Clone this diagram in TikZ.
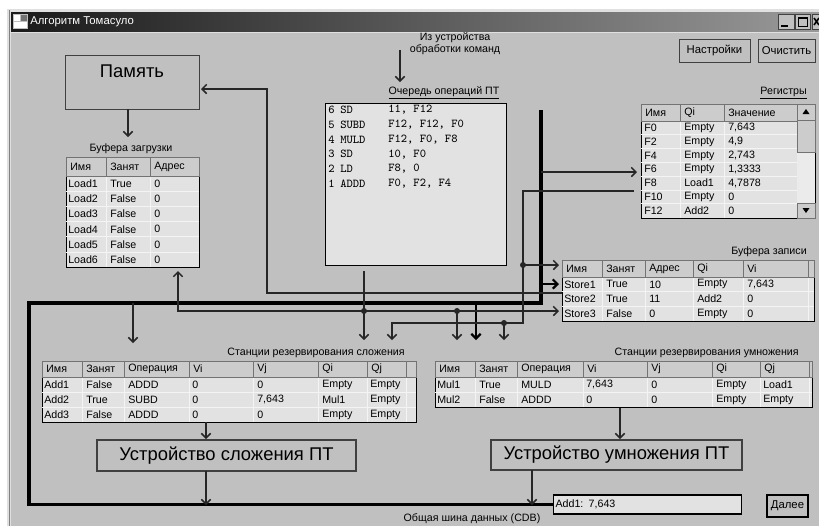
\documentclass[tikz,border=0pt]{standalone}
\usepackage{fontspec}
\setmainfont{Liberation Sans}
\usetikzlibrary{arrows.meta,positioning,calc}

\definecolor{winbg}{RGB}{192,192,192}
\definecolor{cellbg}{RGB}{226,226,226}
\definecolor{hdrbg}{RGB}{204,204,204}
\definecolor{wirec}{RGB}{38,38,38}
\definecolor{gridc}{RGB}{244,244,244}

\begin{document}
\begin{tikzpicture}
	[x=0.75pt,y=-0.75pt,
	>={Straight Barb[length=3.5pt,width=7pt]},
	wire/.style={draw=wirec,line width=1.1pt},
	tap/.style={draw=black,line width=1.7pt},
	bus/.style={draw=black,line width=2.4pt},
	jn/.style={circle,fill=wirec,inner sep=0pt,minimum size=4.5pt},
	tt/.style={font=\fontsize{8}{9}\selectfont,inner sep=0pt,anchor=west},
	lbl/.style={font=\fontsize{8}{9}\selectfont,inner sep=0pt},
	qt/.style={font=\ttfamily\fontsize{9}{10}\selectfont,inner sep=0pt,anchor=west},
	tbl/.style={draw=black,fill=cellbg,line width=0.8pt,inner sep=0pt,anchor=north west},
	hdr/.style={draw=black!55,fill=hdrbg,line width=0.5pt},
	gridln/.style={draw=gridc,line width=0.6pt},
	fpu/.style={draw=black!75,line width=0.8pt,inner sep=0pt,font=\fontsize{13.8}{16}\selectfont},
	btn/.style={draw=black!75,fill=winbg,line width=0.7pt,inner sep=0pt,font=\fontsize{8.5}{10}\selectfont}]
	\useasboundingbox (0,0) rectangle (819,526);
	%%%%% WINDOW
	\fill[white] (0,0) rectangle (819,526);
	\fill[black!12] (7,9) rectangle (819,526);
	\draw[black!50,line width=0.6pt] (9,10) -- (9,526);
	\shade[left color=black!90,right color=black!40] (11,12) rectangle (819,31);
	\fill[winbg] (11,33) rectangle (819,526);
	\fill[black!25] (13,14) rectangle (28,29);
	\fill[white] (14,15) rectangle (20,21);
	\fill[black!55] (21,15) rectangle (27,21);
	\fill[white] (14,22) rectangle (27,28);
	\node[anchor=west,white,font=\fontsize{8.5}{10}\selectfont,inner sep=0pt] (title) at (30,21.5) {Алгоритм Томасуло};
	\foreach \xa/\xb [count=\c] in {778/794,795/810,812/819}
	{
	\node[btn,anchor=north west,minimum width={(\xb-\xa)*0.75pt},minimum height=11.25pt] (wb\c) at (\xa,14) {};
	};
	\draw[line width=1.5pt] (781,25.5) -- (788,25.5);
	\draw[line width=0.7pt] (798,17.5) rectangle (807,26);
	\draw[line width=1.4pt] (798,18) -- (807,18);
	\draw[line width=1.2pt] (814,18) -- (819,25) (814,25) -- (819,18);
	\node[btn,minimum width=53.25pt,minimum height=17.25pt] (setup) at (714.5,50.5) {Настройки};
	\node[btn,minimum width=42.75pt,minimum height=17.25pt] (clear) at (786.5,50.5) {Очистить};
	\node[btn,draw=black,line width=1.5pt,minimum width=30.75pt,minimum height=16.5pt] (next) at (787.5,506) {Далее};
	%%%%% MEMORY
	\node[fpu,anchor=north west,minimum width=100.5pt,minimum height=40.5pt] (mem) at (65,55) {};
	\node[fpu,draw=none] (memtxt) at (132,71) {Память};
	%%%%% QUEUE
	\node[lbl,align=center] (from) at (455,44) {Из устройства\\обработки команд};
	\node[lbl] (qcap) at (444,93) {\underline{Очередь операций ПТ}};
	\node[tbl,minimum width=135.75pt,minimum height=121.5pt] (queue) at (325,103) {};
	\foreach \va/\vb/\vc [count=\r] in {6/SD/{11, F12},5/SUBD/{F12, F12, F0},4/MULD/{F12, F0, F8},3/SD/{10, F0},2/LD/{F8, 0},1/ADDD/{F0, F2, F4}}
	{
	\node[qt] (qn\r) at (328,{95+14.8*\r}) {\va};
	\node[qt] (qo\r) at (340,{95+14.8*\r}) {\vb};
	\node[qt] (qa\r) at (388,{95+14.8*\r}) {\vc};
	};
	%%%%% LOAD BUFFERS
	\node[lbl] (loadcap) at (131,149) {Буфера загрузки};
	\node[tbl,minimum width=99.75pt,minimum height=82.5pt] (load) at (66,157) {};
	\foreach \y in {1,...,5} \draw[gridln] (66,{176+15.2*\y}) -- (199,{176+15.2*\y});
	\foreach \x in {106,150} \draw[gridln] (\x,176) -- (\x,267);
	\foreach \xa/\xb/\t [count=\c] in {66/106/Имя,106/150/Занят,150/199/Адрес}
	{
	\draw[hdr] (\xa,157) rectangle (\xb,176);
	\node[tt] (loadh\c) at (\xa+4,166.5) {\t};
	};
	\foreach \va/\vb/\vc [count=\r] in {Load1/True/0,Load2/False/0,Load3/False/0,Load4/False/0,Load5/False/0,Load6/False/0}
	{
	\node[tt] (ld\r-a) at (68,{168.4+15.2*\r}) {\va};
	\node[tt] (ld\r-b) at (110,{168.4+15.2*\r}) {\vb};
	\node[tt] (ld\r-c) at (154,{168.4+15.2*\r}) {\vc};
	};
	%%%%% REGISTERS
	\node[lbl,anchor=east] (regcap) at (807,93) {\underline{Регистры}};
	\node[tbl,minimum width=130.5pt,minimum height=85.5pt] (regs) at (641,104) {};
	\foreach \y in {1,...,6} \draw[gridln] (641,{121+13.8*\y}) -- (797,{121+13.8*\y});
	\foreach \x in {680,724} \draw[gridln] (\x,121) -- (\x,218);
	\foreach \xa/\xb/\t [count=\c] in {641/680/Имя,680/724/Qi,724/797/Значение}
	{
	\draw[hdr] (\xa,104) rectangle (\xb,121);
	\node[tt] (regh\c) at (\xa+4,112.5) {\t};
	};
	\foreach \va/\vb/\vc [count=\r] in {F0/Empty/{7,643},F2/Empty/{4,9},F4/Empty/{2,743},F6/Empty/{1,3333},F8/Load1/{4,7878},F10/Empty/0,F12/Add2/0}
	{
	\node[tt] (rg\r-a) at (644,{114.1+13.8*\r}) {\va};
	\node[tt] (rg\r-b) at (684,{114.1+13.8*\r}) {\vb};
	\node[tt] (rg\r-c) at (728,{114.1+13.8*\r}) {\vc};
	};
	\fill[black!8] (797,104) rectangle (815,218);
	\draw[hdr] (797,104) rectangle (815,120);
	\draw[hdr] (797,120) rectangle (815,152);
	\draw[hdr] (797,203) rectangle (815,218);
	\fill (806,109) -- (802.5,114) -- (809.5,114) -- cycle;
	\fill (806,213) -- (802.5,208) -- (809.5,208) -- cycle;
	%%%%% STORE BUFFERS
	\node[lbl,anchor=east] (stcap) at (807,252) {Буфера записи};
	\node[tbl,minimum width=189pt,minimum height=45.75pt] (store) at (562,260) {};
	\foreach \y in {1,2} \draw[gridln] (562,{277+14.7*\y}) -- (814,{277+14.7*\y});
	\foreach \x in {602,645,693,743,808} \draw[gridln] (\x,277) -- (\x,321);
	\foreach \xa/\xb/\t [count=\c] in {562/602/Имя,602/645/Занят,645/693/Адрес,693/743/Qi,743/808/Vi,808/814/{}}
	{
	\draw[hdr] (\xa,260) rectangle (\xb,277);
	\node[tt] (sth\c) at (\xa+4,268.5) {\t};
	};
	\foreach \va/\vb/\vc/\vd/\ve [count=\r] in {Store1/True/10/Empty/{7,643},Store2/True/11/Add2/0,Store3/False/0/Empty/0}
	{
	\node[tt] (st\r-a) at (564,{269.65+14.7*\r}) {\va};
	\node[tt] (st\r-b) at (606,{269.65+14.7*\r}) {\vb};
	\node[tt] (st\r-c) at (649,{269.65+14.7*\r}) {\vc};
	\node[tt] (st\r-d) at (697,{269.65+14.7*\r}) {\vd};
	\node[tt] (st\r-e) at (747,{269.65+14.7*\r}) {\ve};
	};
	%%%%% ADD STATIONS
	\node[lbl,anchor=east] (addcap) at (405,353) {Станции резервирования сложения};
	\node[tbl,minimum width=280.5pt,minimum height=45.75pt] (addrs) at (42,361) {};
	\foreach \y in {1,2} \draw[gridln] (42,{377+15*\y}) -- (416,{377+15*\y});
	\foreach \x in {82,124,189,253,318,367,406} \draw[gridln] (\x,377) -- (\x,422);
	\foreach \xa/\xb/\t [count=\c] in {42/82/Имя,82/124/Занят,124/189/Операция,189/253/Vi,253/318/Vj,318/367/Qi,367/406/Qj,406/416/{}}
	{
	\draw[hdr] (\xa,361) rectangle (\xb,377);
	\node[tt] (addh\c) at (\xa+4,369) {\t};
	};
	\foreach \va/\vb/\vc/\vd/\ve/\vf/\vg [count=\r] in {Add1/False/ADDD/0/0/Empty/Empty,Add2/True/SUBD/0/{7,643}/Mul1/Empty,Add3/False/ADDD/0/0/Empty/Empty}
	{
	\node[tt] (ad\r-a) at (44,{369.5+15*\r}) {\va};
	\node[tt] (ad\r-b) at (86,{369.5+15*\r}) {\vb};
	\node[tt] (ad\r-c) at (128,{369.5+15*\r}) {\vc};
	\node[tt] (ad\r-d) at (192,{369.5+15*\r}) {\vd};
	\node[tt] (ad\r-e) at (257,{369.5+15*\r}) {\ve};
	\node[tt] (ad\r-f) at (322,{369.5+15*\r}) {\vf};
	\node[tt] (ad\r-g) at (370,{369.5+15*\r}) {\vg};
	};
	%%%%% MUL STATIONS
	\node[lbl,anchor=east] (mulcap) at (799,353) {Станции резервирования умножения};
	\node[tbl,minimum width=282.75pt,minimum height=34.5pt] (mulrs) at (435,361) {};
	\draw[gridln] (435,392) -- (812,392);
	\foreach \x in {475,517,583,647,712,760,809} \draw[gridln] (\x,377) -- (\x,407);
	\foreach \xa/\xb/\t [count=\c] in {435/475/Имя,475/517/Занят,517/583/Операция,583/647/Vi,647/712/Vj,712/760/Qi,760/809/Qj,809/812/{}}
	{
	\draw[hdr] (\xa,361) rectangle (\xb,377);
	\node[tt] (mulh\c) at (\xa+4,369) {\t};
	};
	\foreach \va/\vb/\vc/\vd/\ve/\vf/\vg [count=\r] in {Mul1/True/MULD/{7,643}/0/Empty/Load1,Mul2/False/ADDD/0/0/Empty/Empty}
	{
	\node[tt] (ml\r-a) at (437,{369.5+15*\r}) {\va};
	\node[tt] (ml\r-b) at (479,{369.5+15*\r}) {\vb};
	\node[tt] (ml\r-c) at (521,{369.5+15*\r}) {\vc};
	\node[tt] (ml\r-d) at (586,{369.5+15*\r}) {\vd};
	\node[tt] (ml\r-e) at (651,{369.5+15*\r}) {\ve};
	\node[tt] (ml\r-f) at (716,{369.5+15*\r}) {\vf};
	\node[tt] (ml\r-g) at (763,{369.5+15*\r}) {\vg};
	};
	%%%%% FP UNITS AND CDB
	\node[fpu,minimum width=194.25pt,minimum height=23.25pt] (addu) at (226.5,455.5) {Устройство сложения ПТ};
	\node[fpu,minimum width=188.25pt,minimum height=22.5pt] (mulu) at (616.5,455) {Устройство умножения ПТ};
	\node[draw=black,fill=cellbg,line width=0.8pt,minimum height=14.25pt,text width=138pt,inner xsep=1.5pt,inner ysep=0pt,align=left,anchor=west,font=\fontsize{8}{9}\selectfont] (res) at (553,504.5) {Add1: 7,643};
	\node[lbl] (cdbcap) at (472,519) {Общая шина данных (CDB)};
	%%%%% CONNECTORS
	\coordinate (busL) at (29,303);
	\coordinate (busR) at (541,303);
	\coordinate (busT) at (541,110);
	\coordinate (tapReg) at (541,172);
	\coordinate (tapSt) at (541,284);
	\coordinate (tapAdd) at (133,303);
	\coordinate (tapMul) at (476,303);
	\coordinate (inReg) at (637,172);
	\coordinate (inSt1) at (559,284);
	\coordinate (inAdd) at (133,343);
	\coordinate (inMul) at (476,340);
	\coordinate (addIn) at (206,422);
	\coordinate (addTop) at (206,439);
	\coordinate (mulIn) at (620,408);
	\coordinate (mulTop) at (620,439);
	\coordinate (addOut) at (206,471);
	\coordinate (addBus) at (206,505);
	\coordinate (mulOut) at (532,470);
	\coordinate (mulBus) at (532,505);
	\coordinate (memOut) at (128,109);
	\coordinate (ldTop) at (128,137);
	\coordinate (stOut) at (562,293);
	\coordinate (memTurn) at (267,89);
	\coordinate (memIn) at (201,89);
	\coordinate (qSrc) at (400,50);
	\coordinate (qDst) at (400,82);
	\coordinate (qOut) at (364,271);
	\coordinate (qJ) at (364,311);
	\coordinate (qAdd) at (364,340);
	\coordinate (ldIn) at (178,271);
	\coordinate (st3In) at (559,311);
	\coordinate (qJm) at (457,311);
	\coordinate (qMul) at (457,340);
	\coordinate (regOut) at (634,191);
	\coordinate (rTurn) at (523,191);
	\coordinate (rJ) at (523,265);
	\coordinate (rB) at (523,323);
	\coordinate (rJm) at (504,323);
	\coordinate (rAdd) at (392,340);
	\coordinate (rMul) at (504,340);
	\coordinate (stHdrIn) at (559,265);
	\draw[bus] (res.west) -| (busL) -- (busR) -- (busT);
	\draw[wire,->] (tapReg) -- (inReg);
	\draw[tap,->] (tapSt) -- (inSt1);
	\draw[wire,->] (tapAdd) -- (inAdd);
	\draw[tap,->] (tapMul) -- (inMul);
	\draw[wire,->] (addIn) -- (addTop);
	\draw[wire,->] (mulIn) -- (mulTop);
	\draw[wire,->] (addOut) -- (addBus);
	\draw[wire,->] (mulOut) -- (mulBus);
	\draw[wire,->] (memOut) -- (ldTop);
	\draw[wire,->] (stOut) -| (memTurn) -- (memIn);
	\draw[wire,->] (qSrc) -- (qDst);
	\draw[wire,->] (qOut) -- (qAdd);
	\draw[wire,->] (qJ) -| (ldIn);
	\draw[wire,->] (qJ) -- (st3In);
	\draw[wire,->] (qJm) -- (qMul);
	\draw[wire,->] (regOut) -- (rTurn) -- (rB) -| (rAdd);
	\draw[wire,->] (rJ) -- (stHdrIn);
	\draw[wire,->] (rJm) -- (rMul);
	\node[jn] (dq) at (qJ) {};
	\node[jn] (dqm) at (qJm) {};
	\node[jn] (dr) at (rJ) {};
	\node[jn] (drm) at (rJm) {};
\end{tikzpicture}
\end{document}
